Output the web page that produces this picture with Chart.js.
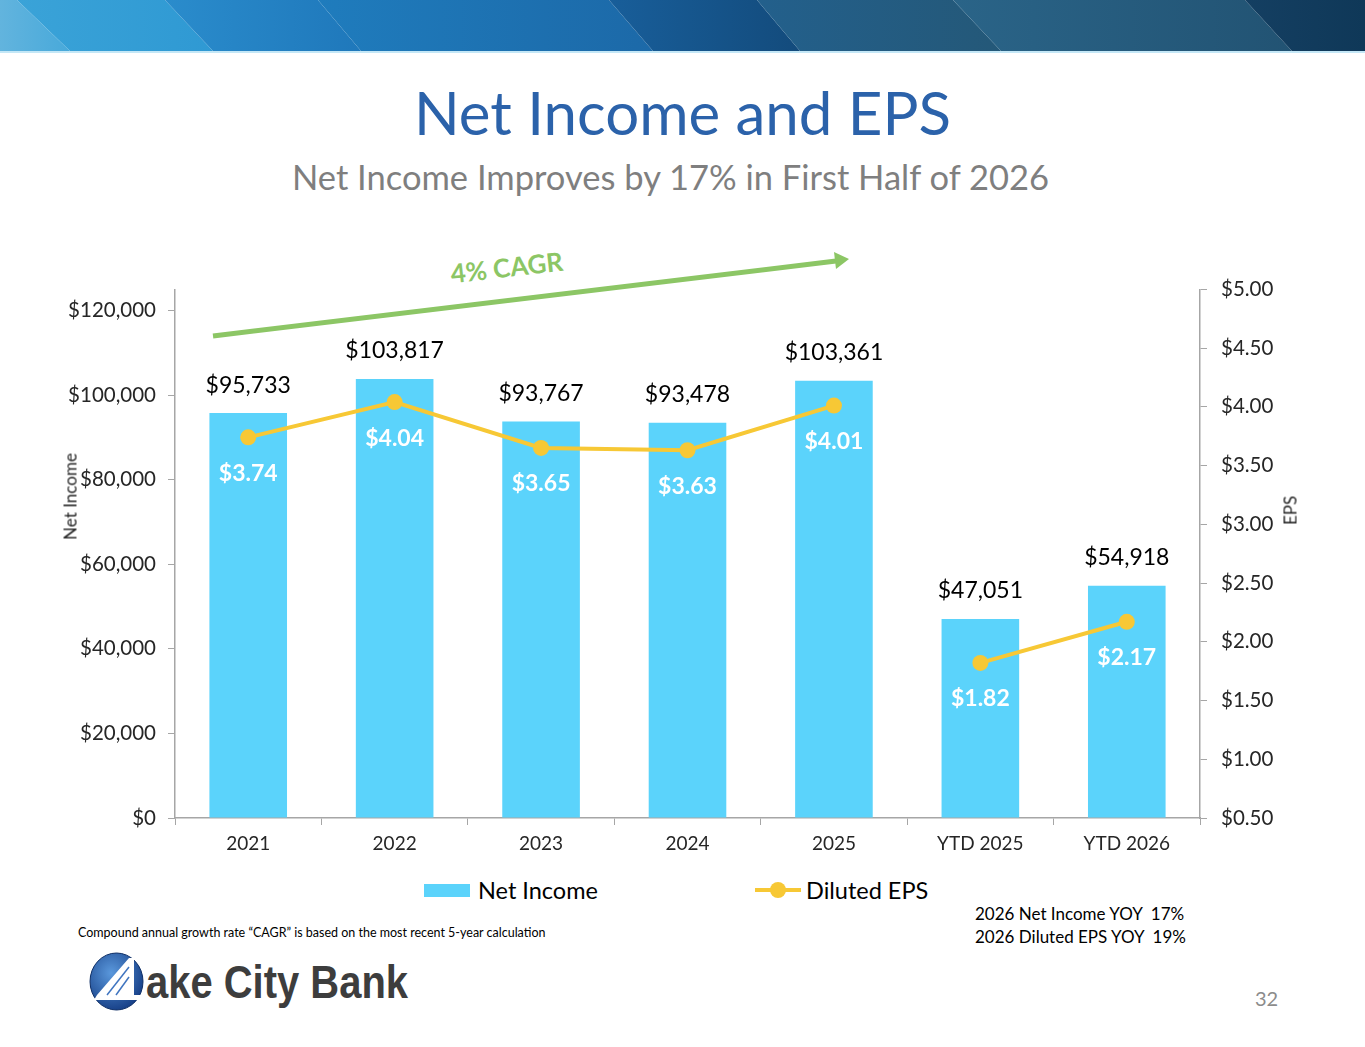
<!DOCTYPE html>
<html>
<head>
<meta charset="utf-8">
<script src="https://cdn.jsdelivr.net/npm/chart.js@4.4.1/dist/chart.umd.min.js"></script>
<style>
  html, body { margin: 0; padding: 0; background: #fff; }
  body { width: 1365px; height: 1047px; position: relative; overflow: hidden; font-family: Lato, "Open Sans", sans-serif; color: #262626; }
  .abs { position: absolute; white-space: nowrap; }
  #title { left: 0; width: 1365px; top: 76px; text-align: center; font-size: 60px; color: #2b62aa; }
  #subtitle { left: 0; width: 1341px; top: 156px; text-align: center; font-size: 34.5px; color: #7f7f7f; }
  #chartBox { left: 0; top: 263px; width: 1365px; height: 607px; }
  .axisTitle { font-size: 17px; color: #262626; transform: rotate(-90deg); transform-origin: center; }
  #legend { top: 875px; left: 0; width: 1365px; height: 30px; font-size: 23.5px; color: #000; }
  .lg { position: absolute; top: 0; line-height: 30px; }
  #note { left: 78px; top: 925px; font-size: 12.5px; color: #000; }
  #yoy { left: 975px; top: 902px; font-size: 17px; line-height: 23px; color: #000; }
  #page { left: 1255px; top: 986px; font-size: 20px; color: #8c8c8c; }
</style>
</head>
<body>

<svg class="abs" style="left:0;top:0" width="1365" height="54">
  <defs>
    <linearGradient id="g1" x1="0" x2="1"><stop offset="0" stop-color="#62b4de"/><stop offset="1" stop-color="#48a9da"/></linearGradient>
    <linearGradient id="g2" x1="0" x2="1"><stop offset="0" stop-color="#3aa3d8"/><stop offset="1" stop-color="#2f99d3"/></linearGradient>
    <linearGradient id="g3" x1="0" x2="1"><stop offset="0" stop-color="#2a8ccc"/><stop offset="1" stop-color="#1f78bb"/></linearGradient>
    <linearGradient id="g4" x1="0" x2="1"><stop offset="0" stop-color="#1f7cbd"/><stop offset="1" stop-color="#1c69a8"/></linearGradient>
    <linearGradient id="g5" x1="0" x2="1"><stop offset="0" stop-color="#185e9a"/><stop offset="1" stop-color="#134b7c"/></linearGradient>
    <linearGradient id="g6" x1="0" x2="1"><stop offset="0" stop-color="#23608c"/><stop offset="1" stop-color="#245878"/></linearGradient>
    <linearGradient id="g7" x1="0" x2="1"><stop offset="0" stop-color="#2a6488"/><stop offset="1" stop-color="#225373"/></linearGradient>
    <linearGradient id="g8" x1="0" x2="1"><stop offset="0" stop-color="#143f62"/><stop offset="1" stop-color="#0f3858"/></linearGradient>
  </defs>
  <polygon points="0,0 17,0 70,51 0,51" fill="url(#g1)"/>
  <polygon points="17,0 165,0 213,51 70,51" fill="url(#g2)"/>
  <polygon points="165,0 318,0 361,51 213,51" fill="url(#g3)"/>
  <polygon points="318,0 609,0 653,51 361,51" fill="url(#g4)"/>
  <polygon points="609,0 757,0 800,51 653,51" fill="url(#g5)"/>
  <polygon points="757,0 953,0 1001,51 800,51" fill="url(#g6)"/>
  <polygon points="953,0 1245,0 1292,51 1001,51" fill="url(#g7)"/>
  <polygon points="1245,0 1365,0 1365,51 1292,51" fill="url(#g8)"/>
  <rect x="0" y="51" width="1365" height="2" fill="#c4e7f6"/>
</svg>

<div id="title" class="abs">Net Income and EPS</div>
<div id="subtitle" class="abs">Net Income Improves by 17% in First Half of 2026</div>

<svg class="abs" style="left:0;top:230px" width="900" height="130">
  <line x1="213" y1="106" x2="836" y2="31" stroke="#8cc665" stroke-width="5"/>
  <polygon points="849,29 834,22 836,39" fill="#8cc665"/>
  <text x="507" y="47" font-family="Lato, sans-serif" font-weight="bold" font-size="26" fill="#8cc665" text-anchor="middle" transform="rotate(-6.5 507 40)">4% CAGR</text>
</svg>

<div id="chartBox" class="abs"><canvas id="myChart"></canvas></div>

<div class="abs axisTitle" style="left:20px;top:486px;width:100px;text-align:center;">Net Income</div>
<div class="abs axisTitle" style="left:1270px;top:500px;width:40px;text-align:center;">EPS</div>

<div id="legend" class="abs">
  <div class="lg" style="left:424px;top:9px;width:46px;height:13px;background:#5bd3fb;"></div>
  <div class="lg" style="left:478px;">Net Income</div>
  <div class="lg" style="left:755px;top:13px;width:46px;height:4px;background:#f7c835;"></div>
  <div class="lg" style="left:770px;top:7px;width:16px;height:16px;border-radius:8px;background:#f7c835;"></div>
  <div class="lg" style="left:806px;">Diluted EPS</div>
</div>

<div id="note" class="abs">Compound annual growth rate “CAGR” is based on the most recent 5-year calculation</div>
<div id="yoy" class="abs">2026 Net Income YOY&nbsp; 17%<br>2026 Diluted EPS YOY&nbsp; 19%</div>

<svg class="abs" style="left:80px;top:945px" width="340" height="75">
  <defs>
    <radialGradient id="lg1" cx="0.4" cy="0.35" r="0.7"><stop offset="0" stop-color="#5a98dc"/><stop offset="1" stop-color="#143c84"/></radialGradient>
  </defs>
  <ellipse cx="36.5" cy="36.5" rx="26.5" ry="28.5" fill="url(#lg1)" stroke="#0f2f66" stroke-width="1"/>
  <polygon points="49,13 54,13 54,50 66,50 64,55 14,55 17,50" fill="#fff"/>
  <line x1="49" y1="22" x2="27" y2="50" stroke="#3f74c0" stroke-width="1.5"/>
  <line x1="49" y1="32" x2="36" y2="50" stroke="#3f74c0" stroke-width="1.5"/>
  <text x="66" y="53" font-family="'Liberation Sans Narrow', 'Liberation Sans', Arial, sans-serif" font-weight="bold" font-size="46" fill="#3d3d3d" textLength="262" lengthAdjust="spacingAndGlyphs">ake City Bank</text>
</svg>

<div id="page" class="abs">32</div>

<script>
// chart values
var categories = ['2021', '2022', '2023', '2024', '2025', 'YTD 2025', 'YTD 2026'];
var netIncome = [95733, 103817, 93767, 93478, 103361, 47051, 54918];
var dilutedEps = [3.74, 4.04, 3.65, 3.63, 4.01, 1.82, 2.17];
var incomeTicks = [0, 20000, 40000, 60000, 80000, 100000, 120000];
var epsTicks = [0.5, 1.0, 1.5, 2.0, 2.5, 3.0, 3.5, 4.0, 4.5, 5.0];
// no line drawn between full year and year-to-date points
var lineBreakAfter = 4;

var axisGray = '#a6a6a6';
var epsColor = '#f7c835';
var fontFam = 'Lato, "Open Sans", sans-serif';

function money(v) { return '$' + Math.round(v).toLocaleString('en-US'); }

var valueLabels = {
    id: 'valueLabels',
    afterDatasetsDraw: function(chart) {
        var ctx = chart.ctx;
        ctx.save();
        ctx.textAlign = 'center';
        ctx.textBaseline = 'middle';
        var bars = chart.getDatasetMeta(1);
        ctx.font = '23px ' + fontFam;
        ctx.fillStyle = '#000';
        bars.data.forEach(function(el, i) {
            ctx.fillText(money(netIncome[i]), el.x, el.y - 28);
        });
        var pts = chart.getDatasetMeta(0);
        ctx.font = 'bold 23px ' + fontFam;
        ctx.fillStyle = '#fff';
        pts.data.forEach(function(el, i) {
            ctx.fillText('$' + dilutedEps[i].toFixed(2), el.x, el.y + 36);
        });
        ctx.restore();
    }
};

var ctx = document.getElementById('myChart').getContext('2d');
var myChart = new Chart(ctx, {
    type: 'bar',
    data: {
        labels: categories,
        datasets: [{
            type: 'line',
            label: 'Diluted EPS',
            data: dilutedEps,
            yAxisID: 'y1',
            borderColor: epsColor,
            backgroundColor: epsColor,
            borderWidth: 4,
            pointRadius: 8,
            pointBorderWidth: 0,
            pointBackgroundColor: epsColor,
            tension: 0,
            segment: {
                borderColor: function(c) { return c.p0DataIndex === lineBreakAfter ? 'rgba(0,0,0,0)' : epsColor; }
            },
            order: 0
        }, {
            label: 'Net Income',
            data: netIncome,
            yAxisID: 'y',
            backgroundColor: '#5bd3fb',
            barPercentage: 0.53,
            categoryPercentage: 1.0,
            order: 1
        }]
    },
    options: {
        responsive: true,
        maintainAspectRatio: false,
        animation: false,
        layout: { padding: { top: 11, left: 0, right: 0, bottom: 0 } },
        plugins: { legend: { display: false }, tooltip: { enabled: false } },
        scales: {
            x: {
                grid: { display: true, drawOnChartArea: false, drawTicks: true, tickLength: 7, color: axisGray, offset: true },
                border: { color: axisGray, width: 1.5 },
                ticks: { font: { size: 19, family: fontFam }, color: '#262626', padding: 7 },
                afterFit: function(s) { s.height = 52; }
            },
            y: {
                position: 'left',
                min: 0,
                max: 125000,
                afterBuildTicks: function(s) { s.ticks = incomeTicks.map(function(v) { return { value: v }; }); },
                grid: { display: true, drawOnChartArea: false, drawTicks: true, tickLength: 7, color: axisGray },
                border: { color: axisGray, width: 1.5 },
                ticks: { font: { size: 20.5, family: fontFam }, color: '#262626', padding: 12, callback: function(v) { return money(v); } },
                afterFit: function(s) { s.width = 175; }
            },
            y1: {
                position: 'right',
                min: 0.5,
                max: 5.0,
                afterBuildTicks: function(s) { s.ticks = epsTicks.map(function(v) { return { value: v }; }); },
                grid: { display: true, drawOnChartArea: false, drawTicks: true, tickLength: 7, color: axisGray },
                border: { color: axisGray, width: 1.5 },
                ticks: { font: { size: 20.5, family: fontFam }, color: '#262626', padding: 14, callback: function(v) { return '$' + Number(v).toFixed(2); } },
                afterFit: function(s) { s.width = 165; }
            }
        }
    },
    plugins: [valueLabels]
});
</script>
</body>
</html>
